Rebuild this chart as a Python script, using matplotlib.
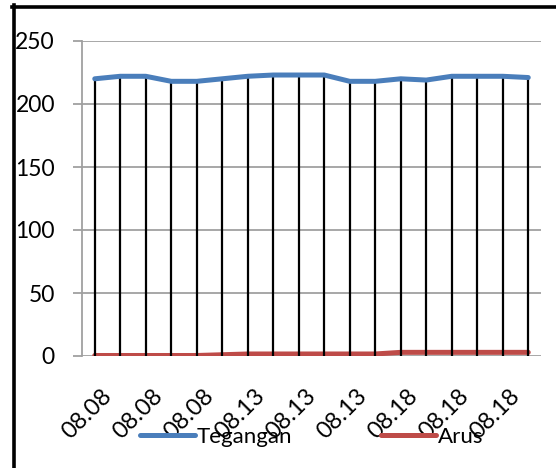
import matplotlib.pyplot as plt
from matplotlib.lines import Line2D
from matplotlib.transforms import ScaledTranslation
import numpy as np

plt.rcParams['font.family'] = ['Lato', 'DejaVu Sans']

# jam pengukuran (18 sampel)
waktu = ['08.08'] * 6 + ['08.13'] * 6 + ['08.18'] * 6
tegangan = [220, 222, 222, 218, 218, 220, 222, 223, 223, 223,
            218, 218, 220, 219, 222, 222, 222, 221]
arus = [0.4, 0.4, 0.4, 0.4, 0.4, 1.0, 1.6, 1.6, 1.6, 1.6,
        1.6, 1.6, 2.9, 2.9, 2.9, 2.9, 2.9, 2.9]
yticks = [0, 50, 100, 150, 200, 250]

blue = '#4A7EBB'
red = '#BE4B48'
grid = '#A0A0A0'

fig = plt.figure(figsize=(5.56, 4.68), dpi=100)
ax = fig.add_axes([82 / 556, 112 / 468, 459 / 556, 315 / 468])

x = np.arange(len(waktu))
ax.plot(x, arus, color=red, lw=3.6, solid_capstyle='round', zorder=2, label='Arus')
ax.vlines(x, 0, tegangan, color='black', lw=1.6, zorder=3)
ax.plot(x, tegangan, color=blue, lw=3.6, solid_capstyle='round', zorder=4, label='Tegangan')

ax.set_xlim(-0.5, len(waktu) - 0.5)
ax.set_ylim(0, 250)
ax.set_yticks(yticks)
for v in yticks:
    ax.axhline(v, color=grid, lw=1.3, zorder=1)

ax.set_xticks(x[::2])
ax.set_xticklabels(waktu[::2], rotation=45, ha='right', va='top',
                   rotation_mode='anchor', fontsize=17)
ax.tick_params(axis='x', length=0, pad=21)
ax.tick_params(axis='y', length=6.5, width=1.3, color=grid, pad=13, labelsize=16.5)
shift = ScaledTranslation(6 / 100, 0, fig.dpi_scale_trans)
for t in ax.get_xticklabels():
    t.set_transform(t.get_transform() + shift)

for s in ['top', 'right', 'bottom']:
    ax.spines[s].set_visible(False)
ax.spines['left'].set_color(grid)
ax.spines['left'].set_linewidth(1.3)

h, l = ax.get_legend_handles_labels()
fig.legend(h[::-1], l[::-1], loc='center', bbox_to_anchor=(0.561, 0.066), ncol=2,
           frameon=False, fontsize=16, handlelength=2.45, handletextpad=0.1,
           columnspacing=4.0)

# bingkai kiri dan atas
fig.add_artist(Line2D([13.5 / 556, 13.5 / 556], [0, 1 - 5 / 468], color='black', lw=2.6))
fig.add_artist(Line2D([12 / 556, 1], [1 - 6.5 / 468, 1 - 6.5 / 468], color='black', lw=2.6))

fig.savefig('out.png', dpi=100)
